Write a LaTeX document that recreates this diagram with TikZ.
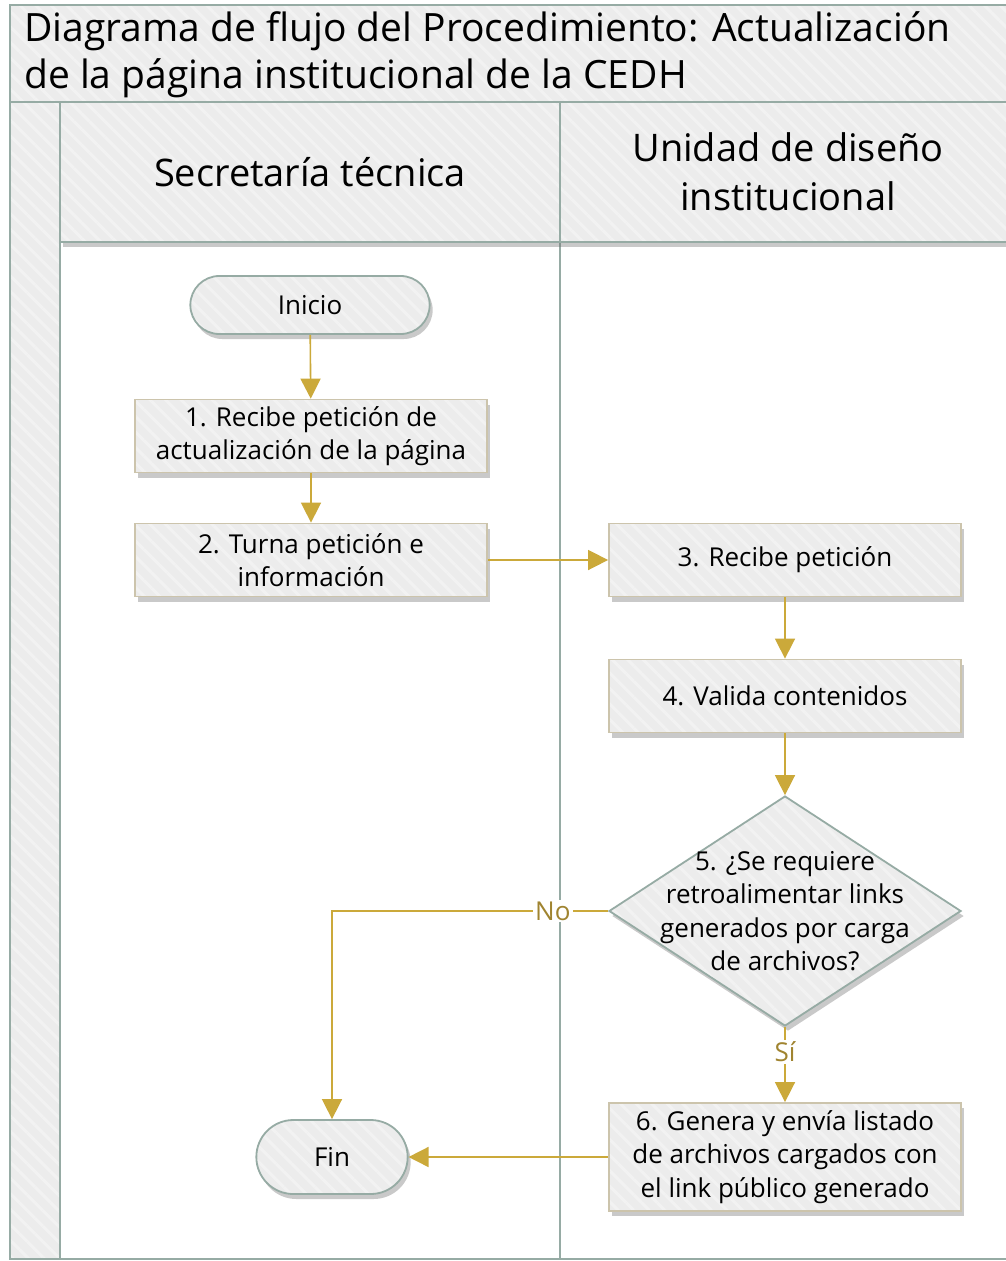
\documentclass[tikz,border=0pt]{standalone}
\usepackage{fontspec}
\setmainfont{Open Sans}
\usetikzlibrary{positioning,shapes.geometric,shapes.misc,shadows,arrows.meta,patterns.meta}

\definecolor{laneedge}{RGB}{150,171,164}
\definecolor{boxedge}{RGB}{204,196,172}
\definecolor{paneltint}{RGB}{236,236,236}
\definecolor{stripetint}{RGB}{242,242,242}
\definecolor{flowgold}{RGB}{203,169,58}
\definecolor{labelgold}{RGB}{160,132,48}

\begin{document}
\begin{tikzpicture}[x=1pt, y=-1pt,
    hatch/.style={preaction={fill=paneltint}, preaction={pattern={Lines[angle=-45,distance=11pt,line width=3pt]}, pattern color=stripetint}},
    softshadow/.style={drop shadow={shadow xshift=3pt, shadow yshift=-5pt, opacity=0.35, fill=black!60}},
    stepfont/.style={font=\fontsize{26}{33.5}\selectfont},
    procbox/.style={rectangle, draw=boxedge, line width=1.8pt, softshadow, hatch, minimum width=352pt, minimum height=73pt, align=center, inner sep=2pt, stepfont},
    termbox/.style={rounded rectangle, draw=laneedge, line width=1.8pt, softshadow, hatch, align=center, stepfont},
    decbox/.style={diamond, draw=laneedge, line width=1.8pt, softshadow, hatch, minimum width=352pt, minimum height=230pt, inner sep=0pt},
    flow/.style={draw=flowgold, line width=1.6pt, -{Triangle[width=20pt,length=20pt]}},
    flowlabel/.style={fill=white, text=labelgold, inner sep=2pt, font=\fontsize{26}{30}\selectfont},
    lane/.style={draw=laneedge, line width=2.5pt}
]

    \useasboundingbox (0,0) rectangle (1006,1261);

    % Pool and lanes
    \draw[lane, hatch] (10,5) rectangle (1012,1259);
    \draw[lane, fill=white] (60,242) rectangle (560,1259);
    \draw[lane, fill=white] (560,242) rectangle (1012,1259);
    \draw[lane, softshadow, hatch] (60,102) rectangle (560,242);
    \draw[lane, softshadow, hatch] (560,102) rectangle (1012,242);
    \draw[lane] (10,102) -- (1012,102);

    \node[anchor=west, align=left, inner sep=0pt, font=\fontsize{39}{47}\selectfont]
        (title) at (24,55) {Diagrama de flujo del Procedimiento: Actualización\\de la página institucional de la CEDH};
    \node[font=\fontsize{38}{49}\selectfont, align=center] (laneA) at (310,172) {Secretaría técnica};
    \node[font=\fontsize{38}{49}\selectfont, align=center] (laneB) at (788,172) {Unidad de diseño\\institucional};

    % Steps
    \node[termbox, minimum width=246pt, minimum height=58pt] (inicio) at (310,305) {Inicio};
    \node[procbox] (s1) at (311,436) {1. Recibe petición de\\actualización de la página};
    \node[procbox] (s2) at (311,560) {2. Turna petición e\\información};
    \node[procbox] (s3) at (785,560) {3. Recibe petición};
    \node[procbox] (s4) at (785,696) {4. Valida contenidos};
    \node[decbox, label={[stepfont, align=center]center:{5. ¿Se requiere\\retroalimentar links\\generados por carga\\de archivos?}}] (s5) at (785,911) {};
    \node[procbox, minimum height=108pt] (s6) at (785,1157) {6. Genera y envía listado\\de archivos cargados con\\el link público generado};
    \node[termbox, minimum width=158pt, minimum height=74pt] (fin) at (332,1157) {Fin};

    % Connectors
    \draw[flow] (inicio) -- (s1);
    \draw[flow] (s1) -- (s2);
    \draw[flow] (s2) -- (s3);
    \draw[flow] (s3) -- (s4);
    \draw[flow] (s4) -- (s5);
    \draw[flow] (s5.west) -| node[flowlabel, pos=0.1] {No} (fin.north);
    \draw[flow] (s5.south) -- node[flowlabel, pos=0.33] {Sí} (s6.north);
    \draw[flow] (s6.west) -- (fin.east);

\end{tikzpicture}
\end{document}
